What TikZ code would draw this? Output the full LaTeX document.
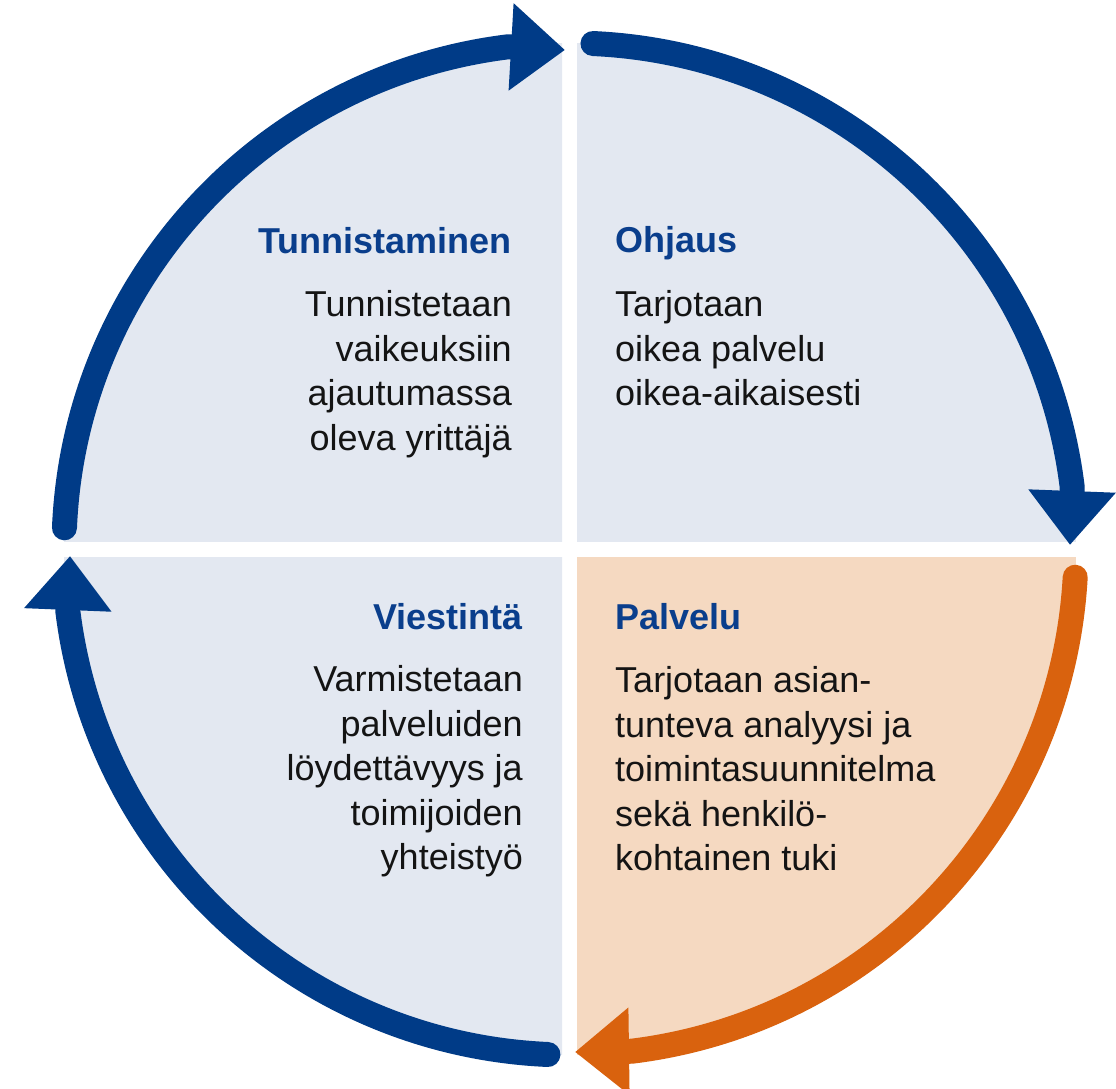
\documentclass[tikz,border=0pt]{standalone}
\usepackage{fontspec}
\setmainfont{Liberation Sans}
\usetikzlibrary{arrows.meta}
\definecolor{cblue}{RGB}{0,59,135}
\definecolor{chead}{RGB}{10,62,140}
\definecolor{clight}{RGB}{227,232,241}
\definecolor{corfill}{RGB}{245,217,193}
\definecolor{corange}{RGB}{217,98,14}
\definecolor{ctext}{RGB}{20,20,20}
\tikzset{
  cyclearc/.style={line width=25pt, line cap=round, line join=round,
    -{Triangle[length=54pt,width=84pt]}},
  headtxt/.style={inner sep=0pt, text=chead, font=\fontsize{36}{44.5}\selectfont\bfseries},
  bodytxt/.style={inner sep=0pt, text=ctext, font=\fontsize{36}{44.5}\selectfont},
}
\begin{document}
\begin{tikzpicture}[x=1pt,y=1pt]
\useasboundingbox (0,0) rectangle (1116,1089);
\fill[white] (0,0) rectangle (1116,1089);
\coordinate (C) at (570,540);
% quadrant fills
\begin{scope}
  \clip (0,547) rectangle (562,1089);
  \fill[clight] (C) circle[radius=506];
\end{scope}
\begin{scope}
  \clip (577,547) rectangle (1116,1089);
  \fill[clight] (C) circle[radius=506];
\end{scope}
\begin{scope}
  \clip (577,0) rectangle (1116,531);
  \fill[corfill] (C) circle[radius=506];
\end{scope}
\begin{scope}
  \clip (0,0) rectangle (562,531);
  \fill[clight] (C) circle[radius=506];
\end{scope}
% arrow tips
\coordinate (Ttop) at (565,1039);
\coordinate (Tright) at (1070,544);
\coordinate (Tbottom) at (575,37);
\coordinate (Tleft) at (70,533);
% arcs
\draw[cyclearc, cblue] ([shift={(C)}]177.6:506) arc[start angle=177.6, end angle=97, radius=506] -- (Ttop);
\draw[cyclearc, cblue] ([shift={(C)}]87.4:506) arc[start angle=87.4, end angle=7, radius=506] -- (Tright);
\draw[cyclearc, corange] ([shift={(C)}]-3.2:506) arc[start angle=-3.2, end angle=-83, radius=506] -- (Tbottom);
\draw[cyclearc, cblue] ([shift={(C)}]267.5:506) arc[start angle=267.5, end angle=187, radius=506] -- (Tleft);
% texts
\node[headtxt, anchor=base east] (h1) at (512,835) {Tunnistaminen};
\node[bodytxt, anchor=base east] (b1) at (512,772) {\begin{tabular}[t]{@{}r@{}}Tunnistetaan\\vaikeuksiin\\ajautumassa\\oleva yrittäjä\end{tabular}};
\node[headtxt, anchor=base west] (h2) at (615,836) {Ohjaus};
\node[bodytxt, anchor=base west] (b2) at (615,772) {\begin{tabular}[t]{@{}l@{}}Tarjotaan\\oikea palvelu\\oikea-aikaisesti\end{tabular}};
\node[headtxt, anchor=base east] (h3) at (523,459) {Viestintä};
\node[bodytxt, anchor=base east] (b3) at (523,397) {\begin{tabular}[t]{@{}r@{}}Varmistetaan\\palveluiden\\löydettävyys ja\\toimijoiden\\yhteistyö\end{tabular}};
\node[headtxt, anchor=base west] (h4) at (615,459) {Palvelu};
\node[bodytxt, anchor=base west] (b4) at (615,396) {\begin{tabular}[t]{@{}l@{}}Tarjotaan asian-\\tunteva analyysi ja\\toimintasuunnitelma\\sekä henkilö-\\kohtainen tuki\end{tabular}};
\end{tikzpicture}
\end{document}
